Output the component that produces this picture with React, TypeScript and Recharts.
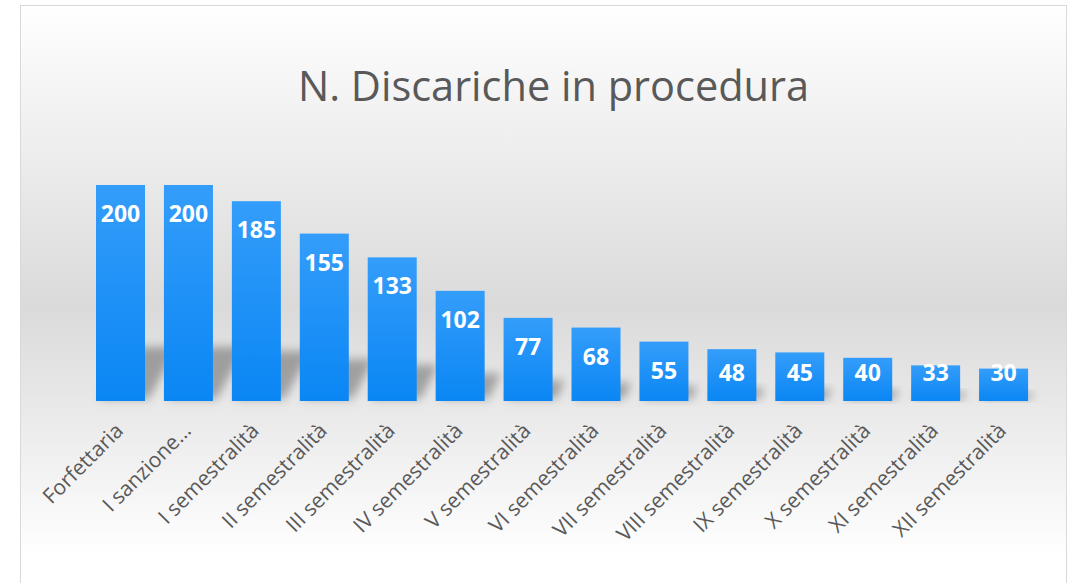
import React from 'react';
import { BarChart, Bar, XAxis, YAxis, LabelList } from 'recharts';

const categories = [
  'Forfettaria',
  'I sanzione…',
  'I semestralità',
  'II semestralità',
  'III semestralità',
  'IV semestralità',
  'V semestralità',
  'VI semestralità',
  'VII semestralità',
  'VIII semestralità',
  'IX semestralità',
  'X semestralità',
  'XI semestralità',
  'XII semestralità',
];
const discariche = [200, 200, 185, 155, 133, 102, 77, 68, 55, 48, 45, 40, 33, 30];

const data = categories.map((name, i) => ({ name, value: discariche[i] }));

const FONT = '"Open Sans", "DejaVu Sans", sans-serif';

// bar with a soft perspective shadow falling to the right
const ShadowBar = (props: any) => {
  const { x, y, width, height } = props;
  if (!height) return null;
  const bottom = y + height;
  const sh = height * 0.25;
  const skew = sh * 0.6;
  const pts = [
    [x + 3, bottom - 2],
    [x + width + 4, bottom - 2],
    [x + width + skew, bottom - sh],
    [x + skew, bottom - sh],
  ]
    .map((p) => p.join(','))
    .join(' ');
  return (
    <g>
      <polygon points={pts} fill="#000" fillOpacity={0.3} filter="url(#barShadow)" />
      <rect x={x} y={y} width={width} height={height} fill="url(#barFill)" />
    </g>
  );
};

const ValueLabel = (props: any) => {
  const { x, y, width, height, value } = props;
  const base = Math.min(y + 37, y + height - 20);
  return (
    <text
      x={x + width / 2}
      y={base}
      textAnchor="middle"
      fill="#fff"
      fontFamily={FONT}
      fontWeight={700}
      fontSize={23}
    >
      {value}
    </text>
  );
};

const AxisTick = (props: any) => {
  const { x, y, payload } = props;
  return (
    <text
      x={x + 4}
      y={y + 31}
      textAnchor="end"
      fill="#595959"
      fontFamily={FONT}
      fontSize={21}
      transform={`rotate(-45, ${x + 4}, ${y + 31})`}
    >
      {payload.value}
    </text>
  );
};

export default function App() {
  return (
    <div style={{ position: 'absolute', left: 0, top: 0, width: 1071, height: 583, overflow: 'hidden', background: '#fff' }}>
      <div
        style={{
          position: 'absolute',
          left: 20,
          top: 5,
          width: 1045,
          height: 600,
          border: '1px solid #d9d9d9',
          background: 'linear-gradient(to bottom, #ffffff 0%, #dadada 50%, #ffffff 92%)',
        }}
      >
        <div
          style={{
            position: 'absolute',
            left: 10,
            width: 1045,
            top: 59,
            textAlign: 'center',
            fontFamily: FONT,
            fontSize: 41.5,
            lineHeight: 1,
            color: '#595959',
            whiteSpace: 'nowrap',
          }}
        >
          N. Discariche in procedura
        </div>
        <div style={{ position: 'absolute', left: 0, top: 0 }}>
          <BarChart
            width={1045}
            height={577}
            data={data}
            margin={{ top: 179, right: 28.5, bottom: 2, left: 65.5 }}
            barCategoryGap="14%"
          >
            <defs>
              <linearGradient id="barFill" x1="0" y1="0" x2="0" y2="1">
                <stop offset="0%" stopColor="#349dfa" />
                <stop offset="100%" stopColor="#0a86f4" />
              </linearGradient>
              <filter id="barShadow" x="-50%" y="-50%" width="200%" height="200%">
                <feGaussianBlur stdDeviation="5" />
              </filter>
            </defs>
            <XAxis
              dataKey="name"
              interval={0}
              axisLine={false}
              tickLine={false}
              tickSize={0}
              tickMargin={0}
              height={180}
              tick={<AxisTick />}
            />
            <YAxis hide domain={[0, 200]} />
            <Bar dataKey="value" shape={<ShadowBar />} isAnimationActive={false}>
              <LabelList dataKey="value" content={<ValueLabel />} />
            </Bar>
          </BarChart>
        </div>
      </div>
    </div>
  );
}
